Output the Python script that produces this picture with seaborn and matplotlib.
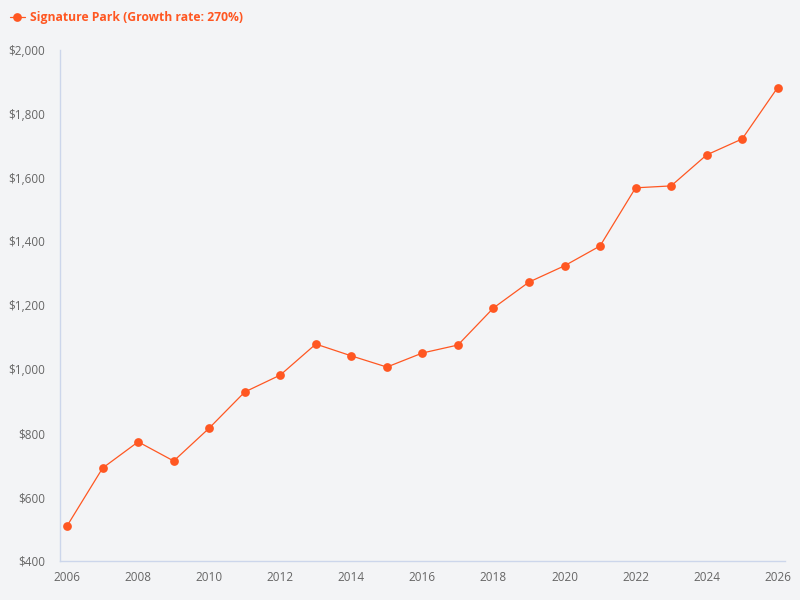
import matplotlib
matplotlib.use("Agg")
import matplotlib.pyplot as plt
import matplotlib.ticker as mticker
import seaborn as sns
import pandas as pd

years = list(range(2006, 2027))
values = [510, 691, 773, 713, 816, 929, 982, 1079, 1042, 1007, 1051, 1076,
          1192, 1273, 1324, 1386, 1568, 1574, 1671, 1721, 1882]
series_name = "Signature Park (Growth rate: 270%)"

df = pd.DataFrame({"year": years, "value": values})

sns.set_theme(style="white")
plt.rcParams['font.family'] = ['Open Sans', 'DejaVu Sans']

bg = "#F3F4F6"
color = "#FF5722"
fig = plt.figure(figsize=(8, 6), dpi=100, facecolor=bg)
ax = fig.add_axes([0.075, 0.065, 0.906, 0.852])
ax.set_facecolor(bg)

sns.lineplot(data=df, x="year", y="value", ax=ax, color=color, linewidth=0.9,
             marker="o", markersize=6.3, markeredgewidth=0, label=series_name)

ax.set_xlim(2005.8, 2026.2)
ax.set_ylim(400, 2000)
ax.set_xticks(range(2006, 2027, 2))
ax.set_yticks(range(400, 2001, 200))
ax.yaxis.set_major_formatter(mticker.FuncFormatter(lambda v, p: f"${v:,.0f}"))
ax.set_xlabel("")
ax.set_ylabel("")
ax.tick_params(axis="both", length=0, labelsize=8.5, colors="#666666")
ax.tick_params(axis="y", pad=10.5)
ax.tick_params(axis="x", pad=7.5)
for s in ["top", "right"]:
    ax.spines[s].set_visible(False)
for s in ["left", "bottom"]:
    ax.spines[s].set_color("#ccd6eb")
    ax.spines[s].set_linewidth(1)

leg = ax.legend(loc="upper left", bbox_to_anchor=(-0.083, 1.095), frameon=False,
                handlelength=1.25, handletextpad=0.45, borderpad=0.3,
                prop={"weight": "bold", "size": 8.7})
for t in leg.get_texts():
    t.set_color(color)

fig.savefig("out.png", dpi=100, facecolor=bg)
